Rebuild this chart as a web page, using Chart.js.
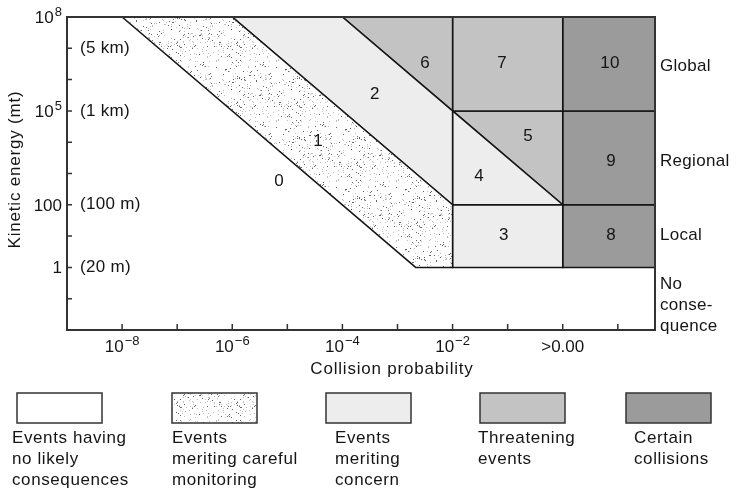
<!DOCTYPE html>
<html>
<head>
<meta charset="utf-8">
<script src="https://cdn.jsdelivr.net/npm/chart.js@4.4.1/dist/chart.umd.min.js"></script>
<style>
  html, body { margin: 0; padding: 0; background: #fff; }
</style>
</head>
<body>
<canvas id="torinoChart" width="736" height="490"></canvas>
<script>
// Zones in log10 units: x = collision probability, y = kinetic energy (mt)
const xMin = -9, xMax = 1.675, yMin = -2, yMax = 8;

const zoneMonitoring = [[-8, 8], [-6, 8], [-2, 2], [-2, 0], [-2.67, 0]]; // 1
const zoneConcernHigh = [[-6, 8], [-4, 8], [-2, 5], [-2, 2]];            // 2
const zoneConcernMid = [[-2, 5], [0, 2], [-2, 2]];                       // 4
const zoneConcernLow = [[-2, 2], [0, 2], [0, 0], [-2, 0]];               // 3
const zoneThreat6 = [[-4, 8], [-2, 8], [-2, 5]];
const zoneThreat7 = [[-2, 8], [0, 8], [0, 5], [-2, 5]];
const zoneThreat5 = [[-2, 5], [0, 5], [0, 2]];
const zoneCertain10 = [[0, 8], [xMax, 8], [xMax, 5], [0, 5]];
const zoneCertain9 = [[0, 5], [xMax, 5], [xMax, 2], [0, 2]];
const zoneCertain8 = [[0, 2], [xMax, 2], [xMax, 0], [0, 0]];

// scale numbers and where they sit
const zoneNumbers = ['0', '1', '2', '6', '7', '10', '5', '4', '9', '3', '8'];
const zoneNumberX = [-5.15, -4.44, -3.41, -2.5, -1.1, 0.86, -0.63, -1.52, 0.88, -1.07, 0.88];
const zoneNumberY = [2.76, 4.04, 5.54, 6.53, 6.53, 6.53, 4.2, 2.92, 3.4, 1.04, 1.04];

// axis ticks
const xTickValues = [-8, -6, -4, -2, 0];
const xTickBase = ['10', '10', '10', '10', '>0.00'];
const xTickExp = ['\u22128', '\u22126', '\u22124', '\u22122', ''];
const yTickValues = [8, 5, 2, 0];
const yTickBase = ['10', '10', '100', '1'];
const yTickExp = ['8', '5', '', ''];
const sizeValues = [7, 5, 2, 0];
const sizeLabels = ['(5 km)', '(1 km)', '(100 m)', '(20 m)'];
const effectLabels = ['Global', 'Regional', 'Local'];
const effectValues = [6.41, 3.38, 1.04];
const noEffectLabel = ['No', 'conse-', 'quence'];
const noEffectValue = -1.2;

const legendLabels = [
    ['Events having', 'no likely', 'consequences'],
    ['Events', 'meriting careful', 'monitoring'],
    ['Events', 'meriting', 'concern'],
    ['Threatening', 'events'],
    ['Certain', 'collisions']
];

const FONT = '"Liberation Sans", Arial, Helvetica, sans-serif';
const LIGHT = '#ededed', MID = '#c3c3c3', DARK = '#9b9b9b', INK = '#151515';

// fine dot texture for the "careful monitoring" band
function makeStipple() {
    const c = document.createElement('canvas');
    c.width = 60; c.height = 60;
    const g = c.getContext('2d');
    g.fillStyle = '#fff';
    g.fillRect(0, 0, 60, 60);
    let s = 11;
    const next = () => (s = (s * 16807) % 2147483647) / 2147483647;
    for (let i = 0; i < 260; i++) {
        g.fillStyle = next() > 0.6 ? 'rgba(50,50,50,0.75)' : 'rgba(110,110,110,0.45)';
        g.fillRect(Math.floor(next() * 60), Math.floor(next() * 60), 1, 1);
    }
    return g.createPattern(c, 'repeat');
}
const stipple = makeStipple();

const zones = [
    [zoneMonitoring, stipple],
    [zoneConcernHigh, LIGHT],
    [zoneConcernMid, LIGHT],
    [zoneConcernLow, LIGHT],
    [zoneThreat6, MID],
    [zoneThreat7, MID],
    [zoneThreat5, MID],
    [zoneCertain10, DARK],
    [zoneCertain9, DARK],
    [zoneCertain8, DARK]
];

function toPoints(poly) {
    const pts = poly.map(p => ({ x: p[0], y: p[1] }));
    pts.push({ x: poly[0][0], y: poly[0][1] });
    return pts;
}

function drawPow(ctx, base, exp, px, py, align) {
    ctx.font = '17px ' + FONT;
    const wb = ctx.measureText(base).width;
    ctx.font = '13px ' + FONT;
    const we = exp ? ctx.measureText(exp).width + 1 : 0;
    const total = wb + we;
    let start = px;
    if (align === 'center') start = px - total / 2;
    if (align === 'right') start = px - total;
    ctx.textAlign = 'left';
    ctx.textBaseline = 'alphabetic';
    ctx.font = '17px ' + FONT;
    ctx.fillText(base, start, py);
    if (exp) {
        ctx.font = '13px ' + FONT;
        ctx.fillText(exp, start + wb + 1, py - 7);
    }
}

const decor = {
    id: 'decor',
    afterDatasetsDraw(chart) {
        const { ctx, chartArea: a, scales: { x, y } } = chart;
        ctx.save();
        ctx.fillStyle = INK;
        ctx.strokeStyle = '#333';

        // frame
        ctx.lineWidth = 2;
        ctx.strokeRect(a.left, a.top, a.right - a.left, a.bottom - a.top);

        // inward ticks
        ctx.lineWidth = 1.5;
        ctx.beginPath();
        for (let v = xMin + 1; v < xMax; v++) {
            const px = x.getPixelForValue(v);
            ctx.moveTo(px, a.bottom);
            ctx.lineTo(px, a.bottom - 6);
        }
        for (let v = yMin + 1; v < yMax; v++) {
            const py = y.getPixelForValue(v);
            ctx.moveTo(a.left, py);
            ctx.lineTo(a.left + 5, py);
        }
        ctx.stroke();

        // tick labels
        xTickValues.forEach((v, i) => {
            drawPow(ctx, xTickBase[i], xTickExp[i], x.getPixelForValue(v), a.bottom + 22, 'center');
        });
        yTickValues.forEach((v, i) => {
            drawPow(ctx, yTickBase[i], yTickExp[i], a.left - 5, y.getPixelForValue(v) + 6, 'right');
        });

        ctx.font = '17px ' + FONT;
        ctx.textBaseline = 'middle';
        ctx.textAlign = 'left';
        ctx.letterSpacing = '0.3px';
        sizeValues.forEach((v, i) => {
            ctx.fillText(sizeLabels[i], a.left + 13, y.getPixelForValue(v));
        });
        effectValues.forEach((v, i) => {
            ctx.fillText(effectLabels[i], a.right + 5, y.getPixelForValue(v));
        });
        const ny = y.getPixelForValue(noEffectValue);
        noEffectLabel.forEach((t, i) => {
            ctx.fillText(t, a.right + 5, ny + (i - 1) * 21);
        });

        // zone numbers
        ctx.textAlign = 'center';
        zoneNumbers.forEach((t, i) => {
            ctx.fillText(t, x.getPixelForValue(zoneNumberX[i]), y.getPixelForValue(zoneNumberY[i]));
        });

        // axis titles
        ctx.letterSpacing = '0.8px';
        ctx.fillText('Collision probability', (a.left + a.right) / 2 + 31, a.bottom + 39);
        ctx.save();
        ctx.translate(15, (a.top + a.bottom) / 2 - 4);
        ctx.rotate(-Math.PI / 2);
        ctx.fillText('Kinetic energy (mt)', 0, 0);
        ctx.restore();

        // legend
        const boxLeft = [17, 172, 326, 480, 626];
        const textLeft = [12, 172, 335, 478, 634];
        const fills = ['#fff', stipple, LIGHT, MID, DARK];
        ctx.letterSpacing = '0.6px';
        ctx.textAlign = 'left';
        legendLabels.forEach((lines, i) => {
            ctx.fillStyle = fills[i];
            ctx.fillRect(boxLeft[i], 393, 85, 30);
            ctx.strokeStyle = '#333';
            ctx.lineWidth = 1.5;
            ctx.strokeRect(boxLeft[i], 393, 85, 30);
            ctx.fillStyle = INK;
            lines.forEach((t, j) => ctx.fillText(t, textLeft[i], 438 + j * 21.3));
        });
        ctx.restore();
    }
};

new Chart(document.getElementById('torinoChart'), {
    type: 'scatter',
    data: {
        datasets: zones.map(z => ({
            data: toPoints(z[0]),
            showLine: true,
            fill: 'shape',
            backgroundColor: z[1],
            borderColor: INK,
            borderWidth: 1.5,
            pointRadius: 0,
            tension: 0
        }))
    },
    options: {
        responsive: false,
        animation: false,
        layout: { padding: { left: 67, right: 81, top: 17, bottom: 160 } },
        plugins: {
            legend: { display: false },
            tooltip: { enabled: false }
        },
        scales: {
            x: { type: 'linear', min: xMin, max: xMax, display: false },
            y: { type: 'linear', min: yMin, max: yMax, display: false }
        }
    },
    plugins: [decor]
});
</script>
</body>
</html>
